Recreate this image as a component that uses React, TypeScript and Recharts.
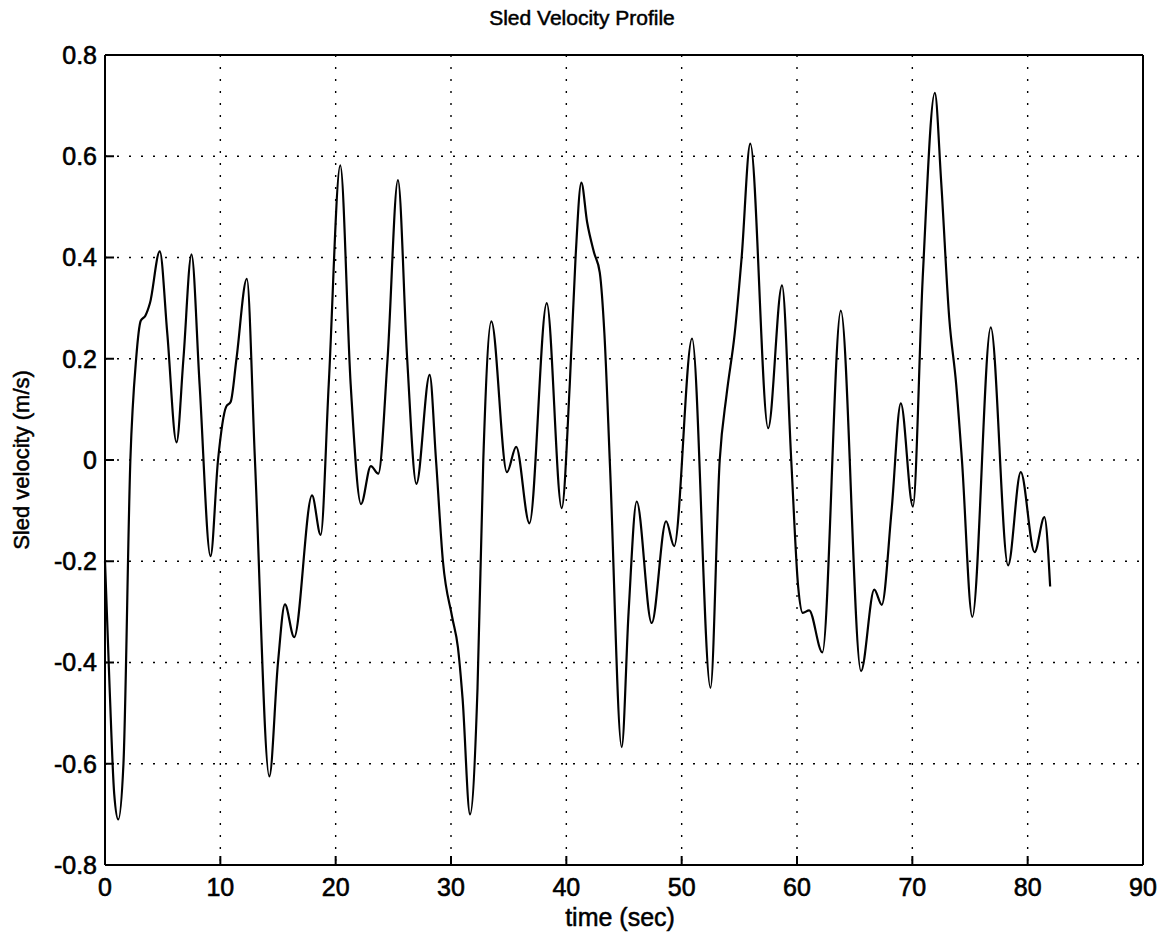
import React from 'react';
import { LineChart, Line, XAxis, YAxis, CartesianGrid } from 'recharts';

// time samples (sec) and sled velocity (m/s)
const times = [
   0, 0.4, 0.8, 1.15, 1.6, 2.2, 2.7, 3.1, 3.5, 3.9,
   4.75, 5.4, 6.2, 6.8, 7.5, 8.2, 9.15, 9.8, 10.5, 10.9,
   11.4, 12.3, 13.0, 14.25, 15.0, 15.6, 16.4, 17.95, 18.7, 19.4,
   20.4, 21.3, 22.2, 23.05, 23.7, 24.5, 25.4, 26.2, 27.0, 28.15,
   28.7, 29.3, 30.1, 30.6, 31.0, 31.65, 32.3, 32.8, 33.5, 34.85,
   35.65, 36.8, 38.3, 39.6, 40.3, 40.8, 41.3, 41.8, 42.4, 42.9,
   43.3, 43.8, 44.8, 45.4, 46.1, 47.4, 48.65, 49.35, 50.9, 52.5,
   53.3, 53.9, 54.6, 55.2, 55.95, 57.5, 58.7, 59.5, 60.1, 60.5,
   61.05, 62.2, 63.8, 65.55, 66.7, 67.35, 68.2, 69.0, 70.05, 70.9,
   71.95, 72.5, 73.2, 73.8, 74.3, 75.2, 76.8, 78.3, 79.4, 80.6,
   81.45, 81.95,
];

const velocity = [
   -0.2, -0.45, -0.66, -0.71, -0.6, 0.0, 0.2, 0.275, 0.285, 0.31,
   0.412, 0.25, 0.035, 0.2, 0.406, 0.15, -0.19, 0.0, 0.105, 0.115,
   0.2, 0.358, 0.0, -0.625, -0.4, -0.285, -0.35, -0.07, -0.148, 0.15,
   0.582, 0.15, -0.087, -0.012, -0.027, 0.2, 0.553, 0.2, -0.047, 0.168,
   0.0, -0.2, -0.31, -0.37, -0.47, -0.7, -0.45, 0.0, 0.274, -0.024,
   0.026, -0.125, 0.31, -0.095, 0.15, 0.4, 0.548, 0.47, 0.41, 0.37,
   0.25, -0.02, -0.567, -0.3, -0.082, -0.322, -0.121, -0.17, 0.24, -0.45,
   0.0, 0.13, 0.25, 0.4, 0.625, 0.063, 0.345, 0.0, -0.25, -0.302,
   -0.297, -0.38, 0.295, -0.417, -0.256, -0.286, -0.1, 0.112, -0.092, 0.36,
   0.725, 0.55, 0.28, 0.15, 0.0, -0.31, 0.262, -0.208, -0.024, -0.182,
   -0.113, -0.25,
];

const xTicks = [0, 10, 20, 30, 40, 50, 60, 70, 80, 90];
const yTicks = [-0.8, -0.6, -0.4, -0.2, 0, 0.2, 0.4, 0.6, 0.8];

const data = times.map((t, i) => ({ t, v: velocity[i] }));

const font = '"Liberation Sans", Arial, Helvetica, sans-serif';
const tickStyle = { fontSize: 25, fill: '#000', fontFamily: font, stroke: '#000', strokeWidth: 0.6 };
const fmtY = (v: number) => (v === 0 ? '0' : v.toFixed(1));
const textBold = { WebkitTextStroke: '0.5px #000', whiteSpace: 'nowrap' as const, lineHeight: 1 };

export default function App() {
   return (
      <div style={{ position: 'absolute', left: 0, top: 0, width: 1163, height: 934, background: '#fff', fontFamily: font }}>
         <div
            style={{
               ...textBold, position: 'absolute', left: 582, top: 17, fontSize: 21,
               transform: 'translate(-50%, -50%)',
            }}
         >
            Sled Velocity Profile
         </div>
         <div
            style={{
               ...textBold, position: 'absolute', left: 22, top: 460, fontSize: 22,
               transform: 'translate(-50%, -50%) rotate(-90deg)',
            }}
         >
            Sled velocity (m/s)
         </div>
         <div
            style={{
               ...textBold, position: 'absolute', left: 620, top: 917, fontSize: 25,
               transform: 'translate(-50%, -50%)',
            }}
         >
            time (sec)
         </div>
         <LineChart width={1163} height={934} data={data} margin={{ top: 0, right: 0, bottom: 0, left: 0 }}>
            <CartesianGrid stroke="#000" strokeWidth={1.4} strokeDasharray="2 10" />
            <XAxis
               dataKey="t"
               type="number"
               domain={[0, 90]}
               ticks={xTicks}
               height={69}
               stroke="#000"
               strokeWidth={2}
               tickSize={-9}
               tickMargin={22}
               tick={tickStyle}
               interval={0}
            />
            <XAxis
               xAxisId="top"
               orientation="top"
               type="number"
               domain={[0, 90]}
               ticks={xTicks}
               height={55}
               stroke="#000"
               strokeWidth={2}
               tickSize={-9}
               tick={false}
            />
            <YAxis
               type="number"
               domain={[-0.8, 0.8]}
               ticks={yTicks}
               width={105}
               stroke="#000"
               strokeWidth={2}
               tickSize={-9}
               tickMargin={17}
               tick={tickStyle}
               tickFormatter={fmtY}
               interval={0}
            />
            <YAxis
               yAxisId="right"
               orientation="right"
               type="number"
               domain={[-0.8, 0.8]}
               ticks={yTicks}
               width={20}
               stroke="#000"
               strokeWidth={2}
               tickSize={-9}
               tick={false}
            />
            <Line
               type="monotone"
               dataKey="v"
               stroke="#000"
               strokeWidth={2.2}
               dot={false}
               isAnimationActive={false}
            />
         </LineChart>
      </div>
   );
}
